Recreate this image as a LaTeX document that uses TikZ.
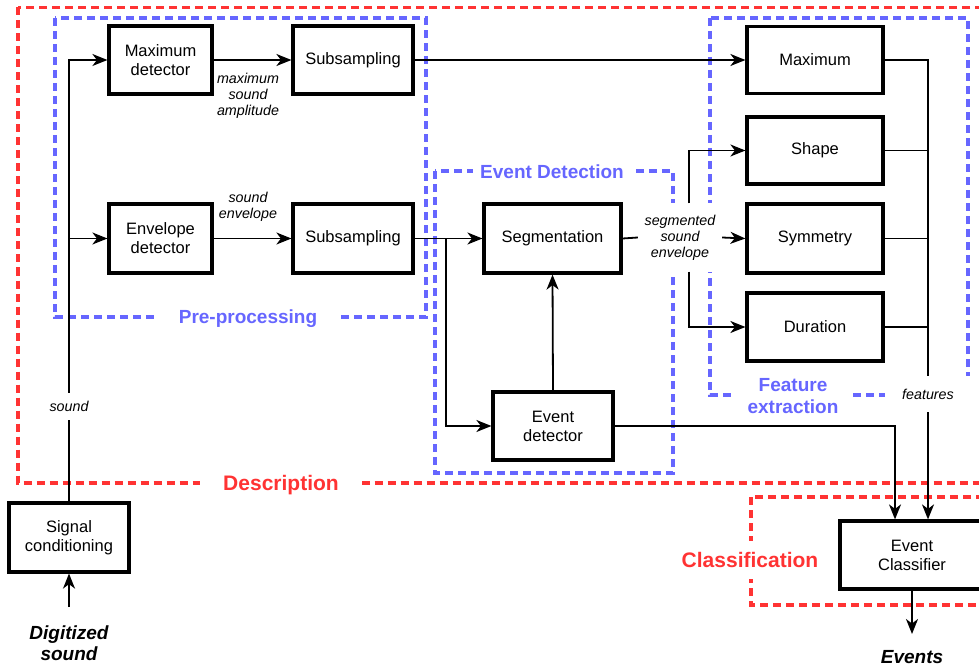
\documentclass[tikz,border=0pt]{standalone}
\usepackage{fontspec}
\setmainfont{Liberation Sans}
\usetikzlibrary{arrows.meta}
\definecolor{gred}{HTML}{FF3333}
\definecolor{gblue}{HTML}{6666FF}
\begin{document}
\begin{tikzpicture}[x=1pt,y=-1pt,
 box/.style={draw, line width=3.2pt, fill=white, align=center, inner sep=0pt, font=\fontsize{16.5}{19}\selectfont},
 lbl/.style={fill=white, align=center, inner sep=0pt, font=\fontsize{14.3}{16}\selectfont\itshape},
 conn/.style={line width=1.8pt},
 arr/.style={conn, -{Stealth[length=15pt,width=12pt,inset=4.5pt]}},
 grpred/.style={draw=gred, line width=3.2pt, dash pattern=on 8pt off 5pt},
 grpblue/.style={draw=gblue, line width=3.2pt, dash pattern=on 8pt off 5pt},
 redlbl/.style={text=gred, fill=white, inner sep=0pt, font=\fontsize{21}{24}\selectfont\bfseries},
 bluelbl/.style={text=gblue, fill=white, align=center, inner sep=0pt, font=\fontsize{19}{22}\selectfont\bfseries},
 iolbl/.style={align=center, inner sep=0pt, font=\fontsize{19}{21}\selectfont\bfseries\itshape}
]
\useasboundingbox (0,0) rectangle (979,668);
\clip (0,0) rectangle (979,668);

% group frames
\draw[grpred] (18,7.5) rectangle (1000,483);
\draw[grpblue] (55,18) rectangle (426,317);
\draw[grpblue] (435,171) rectangle (673,473);
\draw[grpblue] (710,18) rectangle (968,395);
\draw[grpred] (751,497) rectangle (1000,605);

% group labels
\node[bluelbl, minimum width=183pt, minimum height=24pt] (lpre) at (248,319) {Pre-processing};
\node[bluelbl, minimum width=159pt, minimum height=22pt] (levd) at (552,172) {Event Detection};
\node[bluelbl, minimum width=119pt, inner ysep=1pt] (lfeat) at (793,396) {Feature\\extraction};
\node[redlbl, minimum width=162pt, minimum height=24pt] (ldesc) at (281,485) {Description};
\node[redlbl, minimum height=38pt] (lcls) at (750,560) {Classification};

% blocks
\node[box, minimum width=103pt, minimum height=68pt] (maxdet) at (160.5,60) {Maximum\\detector};
\node[box, minimum width=120pt, minimum height=68pt] (sub1) at (353,60) {Subsampling};
\node[box, minimum width=103pt, minimum height=69pt] (envdet) at (160.5,238.5) {Envelope\\detector};
\node[box, minimum width=120pt, minimum height=69pt] (sub2) at (353,238.5) {Subsampling};
\node[box, minimum width=137pt, minimum height=69pt] (seg) at (552.5,238.5) {Segmentation};
\node[box, minimum width=120pt, minimum height=68pt] (evdet) at (553,426) {Event\\detector};
\node[box, minimum width=136pt, minimum height=67pt] (fmax) at (815,60) {Maximum};
\node[box, minimum width=136pt, minimum height=67pt] (shape) at (815,150.5) {Shape};
\node[box, minimum width=136pt, minimum height=69pt] (sym) at (815,238.5) {Symmetry};
\node[box, minimum width=136pt, minimum height=68pt] (dur) at (815,327) {Duration};
\node[box, minimum width=120pt, minimum height=69pt] (sigcond) at (69,537.5) {Signal\\conditioning};
\node[box, minimum width=144pt, minimum height=68pt] (cls) at (912,555) {Event\\Classifier};

\node[iolbl] (din) at (69,643) {Digitized\\sound};
\node[iolbl] (evout) at (912,657) {Events};
\coordinate (dinarr) at (69,607);
\coordinate (evend) at (912,634);

\node[lbl, minimum width=84pt, minimum height=68pt] (segl) at (680,237.5) {segmented\\sound\\envelope};

% helper coordinates
\coordinate (br) at (446,238.5);
\coordinate (vx) at (689,0);
\coordinate (fx) at (928,0);
\coordinate (ex) at (895,0);

% connectors
\draw[arr] (dinarr) -- (sigcond.south);
\draw[arr] (sigcond.north) |- (maxdet.west);
\draw[arr] (sigcond.north |- envdet.west) -- (envdet.west);
\draw[arr] (maxdet.east) -- (sub1.west);
\draw[arr] (envdet.east) -- (sub2.west);
\draw[arr] (sub1.east) -- (fmax.west);
\draw[arr] (sub2.east) -- (seg.west);
\draw[arr] (br) |- (evdet.west);
\draw[arr] (evdet.north) -- (seg.south);
\draw[conn] (seg.east) -- (segl.west);
\draw[arr] (segl.east) -- (sym.west);
\draw[arr] (segl.north -| vx) |- (shape.west);
\draw[arr] (segl.south -| vx) |- (dur.west);
\draw[arr] (fmax.east) -- (fmax.east -| fx) -- (fx |- cls.north);
\draw[conn] (shape.east) -- (shape.east -| fx);
\draw[conn] (sym.east) -- (sym.east -| fx);
\draw[conn] (dur.east) -- (dur.east -| fx);
\draw[arr] (evdet.east) -- (evdet.east -| ex) -- (ex |- cls.north);
\draw[arr] (cls.south) -- (evend);

% connector labels
\node[lbl, anchor=north] (lmax) at (248,73) {maximum\\sound\\amplitude};
\node[lbl] (lenv) at (248,207) {sound\\envelope};
\node[lbl, minimum height=27pt, inner xsep=2pt] (lsound) at (69,406) {sound};
\node[lbl, minimum width=86pt, minimum height=36pt] (lfeatures) at (928,394) {features};
\end{tikzpicture}
\end{document}
